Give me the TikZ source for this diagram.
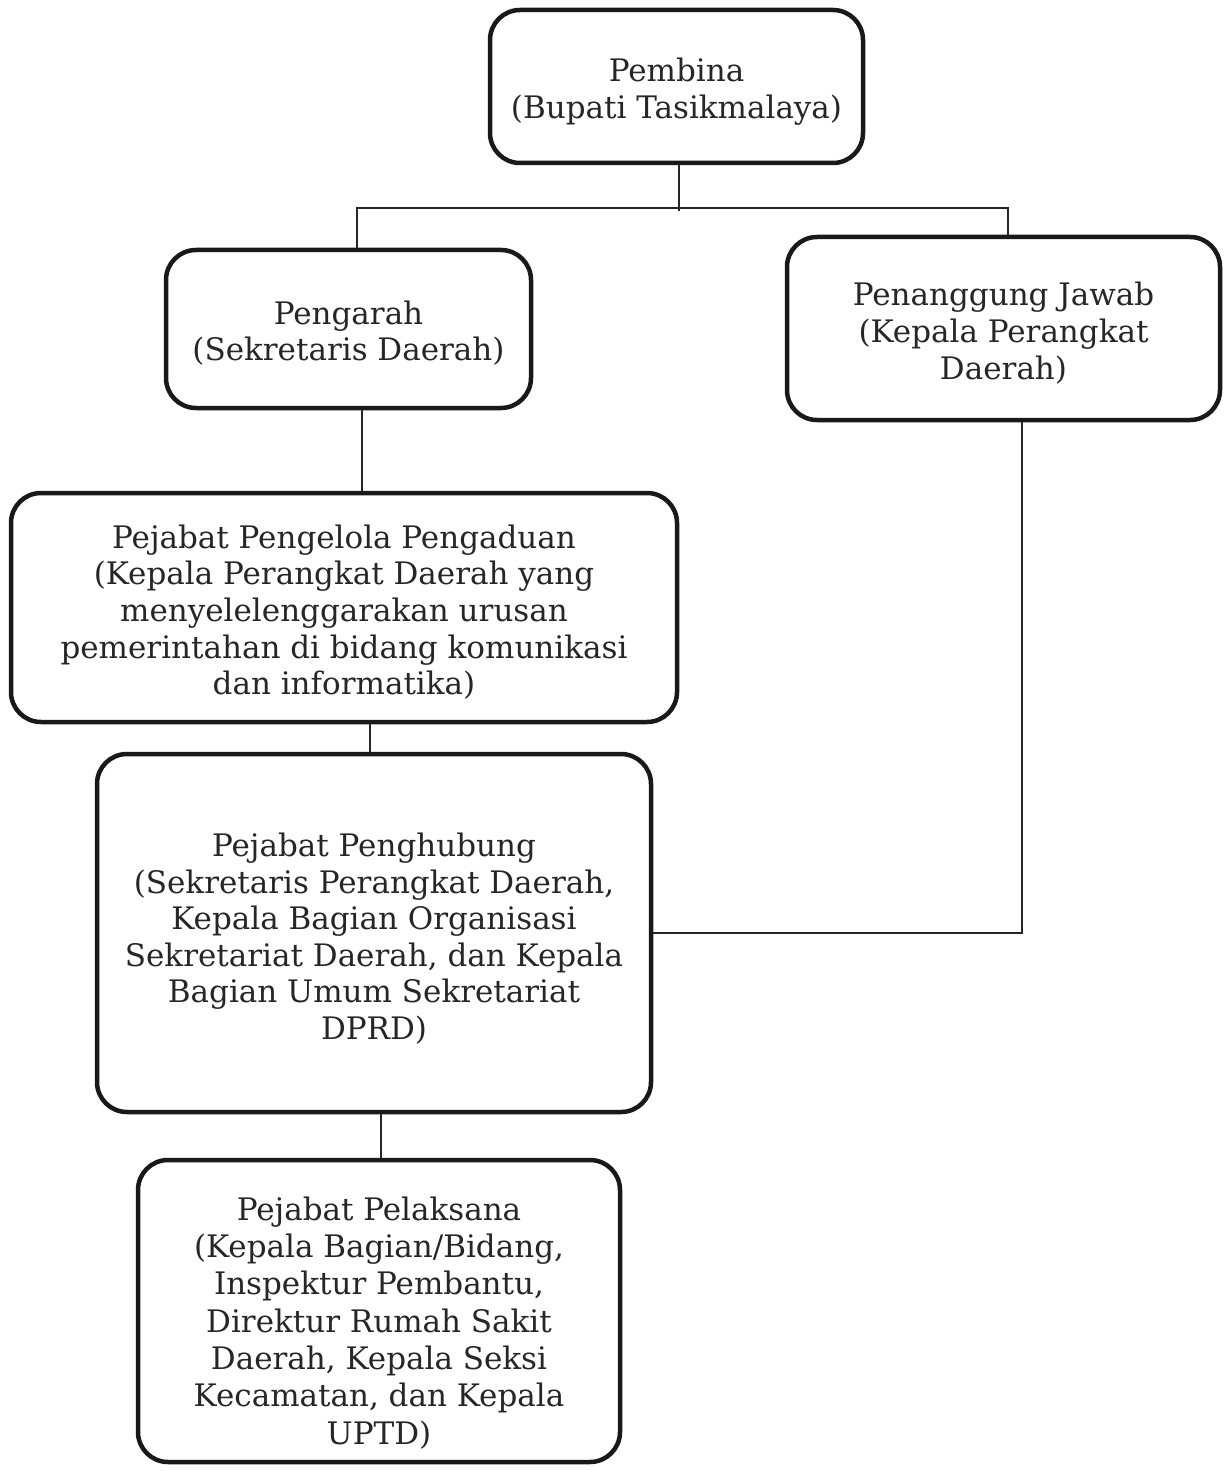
\documentclass[tikz,border=0pt]{standalone}
\usepackage{fontspec}
\setmainfont{DejaVu Serif}
\newcommand{\toppad}[1]{\rule{0pt}{#1pt}}
\begin{document}
\begin{tikzpicture}[x=1pt,y=-1pt,
  orgbox/.style={draw=black!90, line width=4.5pt, rounded corners=30pt,
    align=center, inner sep=0pt, font=\fontsize{31}{36.6}\selectfont, text=black!85},
  conn/.style={draw=black!85, line width=1.8pt}]
\useasboundingbox (0,0) rectangle (1223,1471);
\node[orgbox, minimum width=373pt, minimum height=153pt] (pembina) at (676.5,86.5)
  {\toppad{34}Pembina\\(Bupati Tasikmalaya)};
\node[orgbox, minimum width=365pt, minimum height=158pt] (pengarah) at (348.5,329)
  {\toppad{32}Pengarah\\(Sekretaris Daerah)};
\node[orgbox, minimum width=433pt, minimum height=183pt] (pj) at (1003.5,328.5)
  {\toppad{33}Penanggung Jawab\\(Kepala Perangkat\\Daerah)};
\node[orgbox, minimum width=666pt, minimum height=229pt] (pengelola) at (344,607.5)
  {\toppad{33}Pejabat Pengelola Pengaduan\\(Kepala Perangkat Daerah yang\\menyelelenggarakan urusan\\pemerintahan di bidang komunikasi\\dan informatika)};
\node[orgbox, minimum width=554pt, minimum height=358pt] (penghubung) at (374,933)
  {\toppad{35}Pejabat Penghubung\\(Sekretaris Perangkat Daerah,\\Kepala Bagian Organisasi\\Sekretariat Daerah, dan Kepala\\Bagian Umum Sekretariat\\DPRD)};
\node[orgbox, minimum width=482pt, minimum height=302pt, font=\fontsize{31}{37.3}\selectfont] (pelaksana) at (379,1311)
  {\toppad{47}Pejabat Pelaksana\\(Kepala Bagian/Bidang,\\Inspektur Pembantu,\\Direktur Rumah Sakit\\Daerah, Kepala Seksi\\Kecamatan, dan Kepala\\UPTD)};
% connectors
\draw[conn] ([xshift=2.5pt]pembina.south) -- ++(0,46) coordinate (bus);
\draw[conn] ([xshift=8.5pt]pengarah.north) -- ++(0,-40) -| ([xshift=4.5pt]pj.north);
\draw[conn] ([xshift=13.5pt]pengarah.south) -- ([xshift=18pt]pengelola.north);
\draw[conn] ([xshift=26pt]pengelola.south) -- ([xshift=-4pt]penghubung.north);
\draw[conn] ([xshift=7pt]penghubung.south) -- ([xshift=2pt]pelaksana.north);
\draw[conn] ([xshift=18.5pt]pj.south) |- (penghubung.east);
\end{tikzpicture}
\end{document}
